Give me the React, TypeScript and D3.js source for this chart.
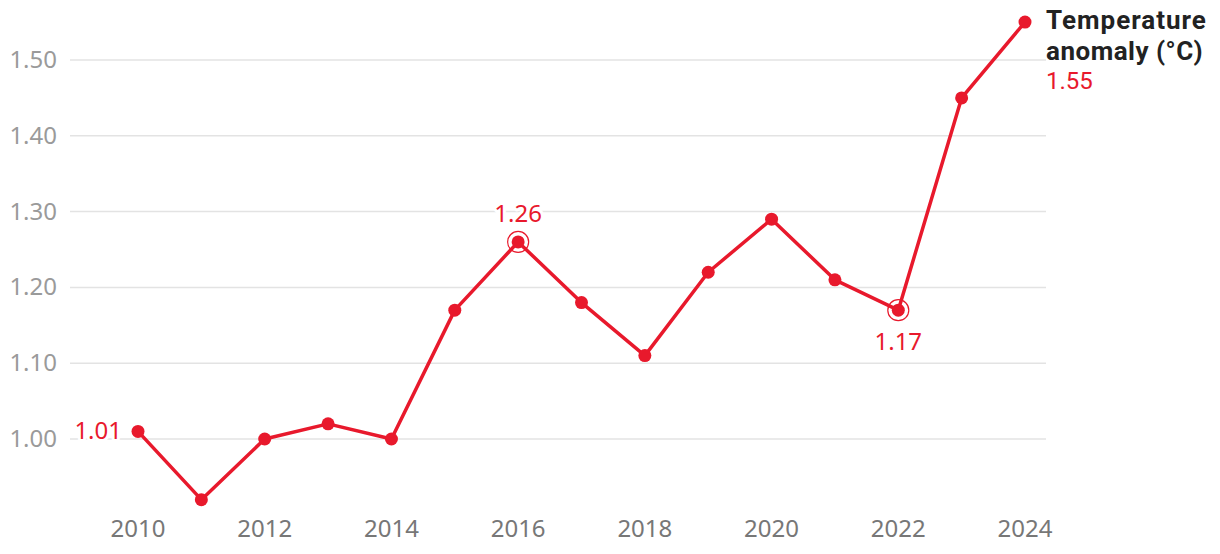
import React from "react";
import * as d3 from "d3";

const years = [2010, 2011, 2012, 2013, 2014, 2015, 2016, 2017, 2018, 2019, 2020, 2021, 2022, 2023, 2024];
const anomaly = [1.01, 0.92, 1.0, 1.02, 1.0, 1.17, 1.26, 1.18, 1.11, 1.22, 1.29, 1.21, 1.17, 1.45, 1.55];
const yTicks = [1.0, 1.1, 1.2, 1.3, 1.4, 1.5];
const xTicks = [2010, 2012, 2014, 2016, 2018, 2020, 2022, 2024];
const highlighted = [2016, 2022];
const seriesTitle = ["Temperature", "anomaly (°C)"];

const RED = "#e8192c";
const FONT = "'Noto Sans', 'Open Sans', sans-serif";
const TITLE_FONT = "Roboto, 'Noto Sans', sans-serif";

export default function App() {
  const W = 1220, H = 554;
  const x = d3.scaleLinear().domain([2010, 2024]).range([138, 1025]);
  const y = d3.scaleLinear().domain([1.0, 1.5]).range([439, 60]);
  const data = years.map((yr, i) => ({ yr, v: anomaly[i] }));
  const line = d3.line<{ yr: number; v: number }>().x(d => x(d.yr)).y(d => y(d.v));
  const halo = { paintOrder: "stroke" as const, stroke: "#fff", strokeWidth: 6, strokeLinejoin: "round" as const };

  const d2016 = data.find(d => d.yr === 2016)!;
  const d2022 = data.find(d => d.yr === 2022)!;
  const dFirst = data[0];
  const dLast = data[data.length - 1];

  return (
    <svg width={W} height={H} style={{ position: "absolute", left: 0, top: 0, background: "#fff" }} fontFamily={FONT}>
      {yTicks.map(t => (
        <g key={t}>
          <line x1={70} x2={1046} y1={y(t)} y2={y(t)} stroke="#e3e3e3" strokeWidth={1.5} />
          <text x={57} y={y(t) + 8} textAnchor="end" fontSize={24} fill="#9a9a9a">{t.toFixed(2)}</text>
        </g>
      ))}
      {xTicks.map(t => (
        <text key={t} x={x(t)} y={537} textAnchor="middle" fontSize={24} fill="#777">{t}</text>
      ))}
      <path d={line(data)!} fill="none" stroke={RED} strokeWidth={3.5} strokeLinejoin="round" />
      {highlighted.map(yr => {
        const d = data.find(p => p.yr === yr)!;
        return <circle key={yr} cx={x(d.yr)} cy={y(d.v)} r={10.5} fill="none" stroke={RED} strokeWidth={1.2} />;
      })}
      {data.map(d => (
        <circle key={d.yr} cx={x(d.yr)} cy={y(d.v)} r={6.5} fill={RED} />
      ))}
      <text x={x(dFirst.yr) - 16} y={y(dFirst.v) + 8} textAnchor="end" fontSize={24} fill={RED} style={halo}>{dFirst.v.toFixed(2)}</text>
      <text x={x(d2016.yr)} y={y(d2016.v) - 20} textAnchor="middle" fontSize={24} fill={RED} style={halo}>{d2016.v.toFixed(2)}</text>
      <text x={x(d2022.yr)} y={y(d2022.v) + 40} textAnchor="middle" fontSize={24} fill={RED} style={halo}>{d2022.v.toFixed(2)}</text>
      <g fontFamily={TITLE_FONT}>
        <text x={1046} y={29} fontSize={26} fontWeight={700} fill="#222" letterSpacing={1}>{seriesTitle[0]}</text>
        <text x={1046} y={60} fontSize={26} fontWeight={700} fill="#222" letterSpacing={0.5}>{seriesTitle[1]}</text>
        <text x={1046} y={89} fontSize={24} fill={RED}>{dLast.v.toFixed(2)}</text>
      </g>
    </svg>
  );
}
